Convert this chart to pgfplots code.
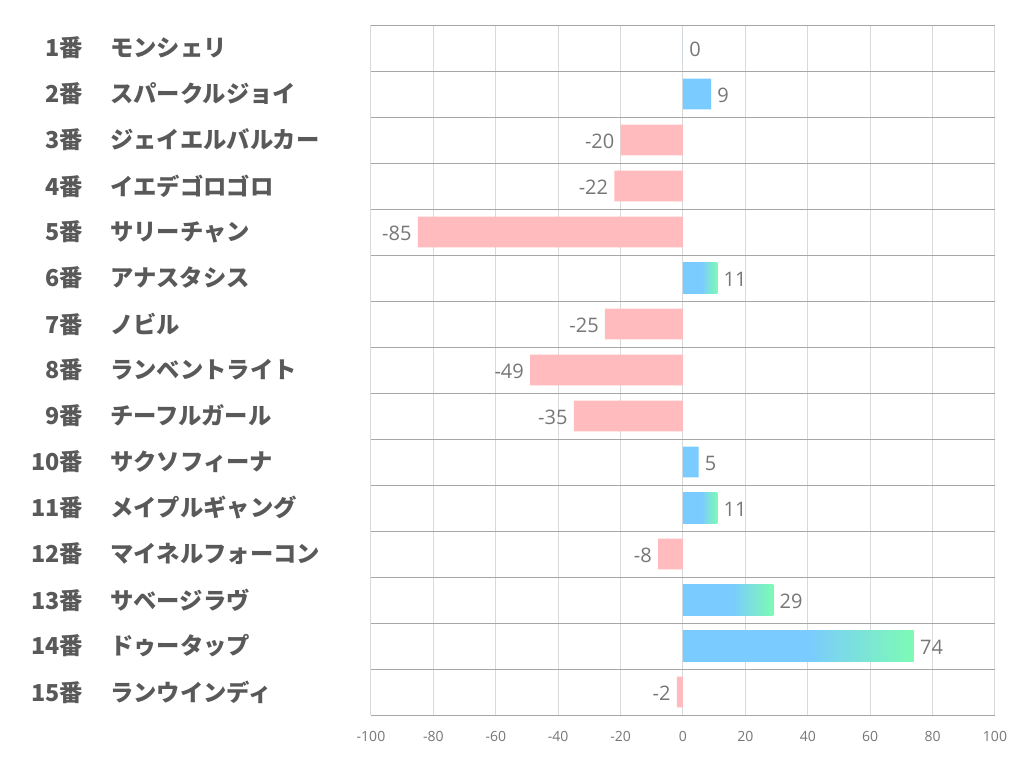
\documentclass[border=0pt]{standalone}
\usepackage{pgfplots}
\pgfplotsset{compat=1.18}
\usepackage{fontspec}
\setmainfont{Open Sans}
\newfontfamily\jp{Noto Sans CJK JP}
\definecolor{barblue}{HTML}{7ACBFF}
\definecolor{bargreen}{HTML}{7DFBB4}
\definecolor{barpink}{HTML}{FFBBBE}
\definecolor{lab}{HTML}{595959}
\definecolor{val}{HTML}{767676}
\definecolor{hgrid}{HTML}{A6A6A6}
\definecolor{vgrid}{HTML}{D9D9D9}
\pgfdeclarehorizontalshading{bluegreen}{100bp}{color(0bp)=(barblue); color(52bp)=(barblue); color(75bp)=(bargreen); color(100bp)=(bargreen)}
\newcommand{\yl}[2]{\makebox[45pt][r]{#1番}\hspace*{20.25pt}#2}
\begin{document}
\begin{tikzpicture}
\begin{axis}[
 scale only axis, width=468pt, height=517.5pt,
 xmin=-100, xmax=100, ymin=0.5, ymax=15.5, y dir=reverse,
 xtick={-100,-80,...,100}, ytick={1,...,15},
 minor ytick={0.5,1.5,...,15.5},
 xmajorgrids, major x grid style={vgrid, line width=0.75pt},
 yminorgrids, minor y grid style={hgrid, line width=0.75pt},
 axis line style={draw=none},
 major tick length=0pt, minor tick length=0pt,
 yticklabels={\yl{1}{モンシェリ},\yl{2}{スパークルジョイ},\yl{3}{ジェイエルバルカー},\yl{4}{イエデゴロゴロ},\yl{5}{サリーチャン},\yl{6}{アナスタシス},\yl{7}{ノビル},\yl{8}{ランベントライト},\yl{9}{チーフルガール},\yl{10}{サクソフィーナ},\yl{11}{メイプルギャング},\yl{12}{マイネルフォーコン},\yl{13}{サベージラヴ},\yl{14}{ドゥータップ},\yl{15}{ランウインディ}},
 yticklabel style={anchor=west, xshift=-261pt, inner sep=0pt, font=\jp\bfseries\fontsize{17.5}{20}\selectfont, text=lab},
 xticklabel style={font=\fontsize{10.5}{12}\selectfont, text=val, yshift=-9pt},
 /pgf/number format/assume math mode=true,
 point meta=x,
 nodes near coords, nodes near coords align={horizontal},
 nodes near coords style={font=\fontsize{15}{18}\selectfont, text=val, inner sep=4.5pt, yshift=-1pt},
]
\addplot[xbar, bar shift=0pt, bar width=0.67, draw=none, fill=barpink] coordinates {(-20,3) (-22,4) (-85,5) (-25,7) (-49,8) (-35,9) (-8,12) (-2,15)};
\addplot[xbar, bar shift=0pt, bar width=0.67, draw=none, fill=barblue] coordinates {(0,1) (9,2) (5,10)};
\addplot[xbar, bar shift=0pt, bar width=0.67, draw=none, shade, shading=bluegreen] coordinates {(11,6)};
\addplot[xbar, bar shift=0pt, bar width=0.67, draw=none, shade, shading=bluegreen] coordinates {(11,11)};
\addplot[xbar, bar shift=0pt, bar width=0.67, draw=none, shade, shading=bluegreen] coordinates {(29,13)};
\addplot[xbar, bar shift=0pt, bar width=0.67, draw=none, shade, shading=bluegreen] coordinates {(74,14)};
\end{axis}
\coordinate (bbl) at ([shift={(-278.25pt,-50.25pt)}]current axis.south west);
\coordinate (btr) at ([shift={(20.25pt,18.75pt)}]current axis.north east);
\path (bbl) rectangle (btr);
\end{tikzpicture}
\end{document}
